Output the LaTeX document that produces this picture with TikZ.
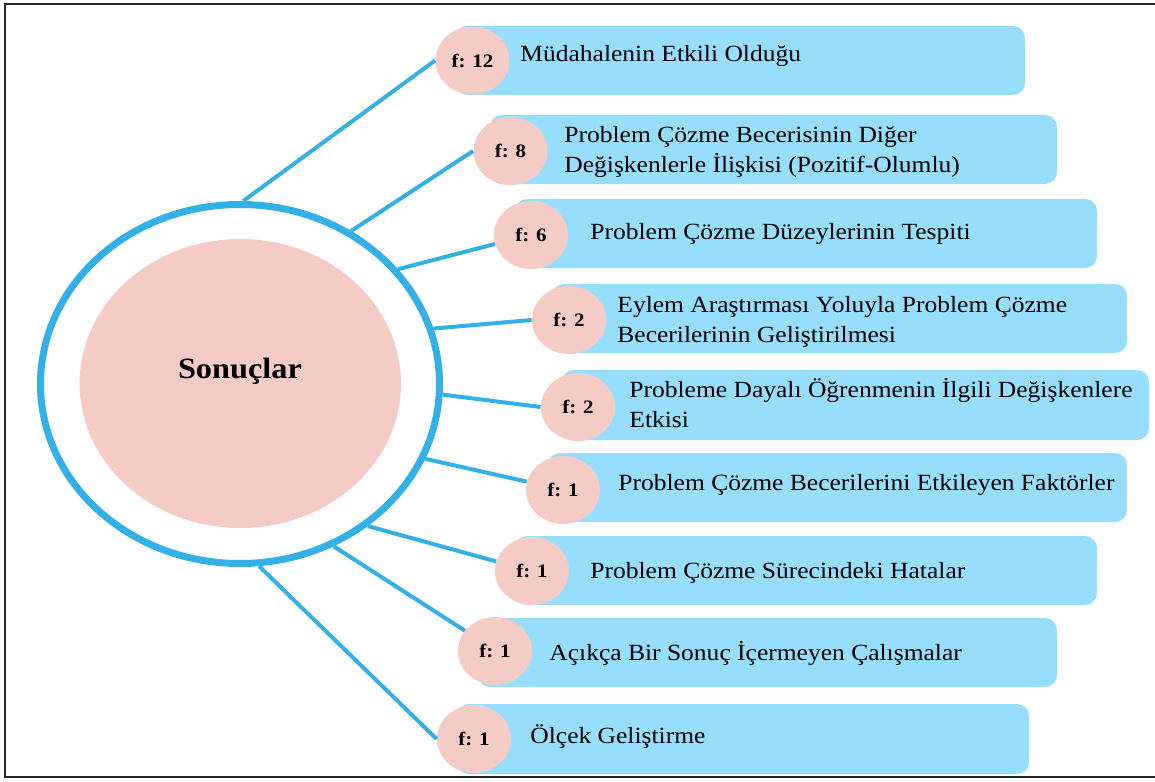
\documentclass[tikz,border=0pt]{standalone}
\usepackage{fontspec}
\setmainfont{Liberation Serif}[FakeStretch=1.1]
\usetikzlibrary{shapes.geometric}
\definecolor{ringblue}{RGB}{51,176,230}
\definecolor{boxblue}{RGB}{151,222,253}
\definecolor{rosepink}{RGB}{244,203,197}
\tikzset{
	fcircle/.style={ellipse,fill=rosepink,inner sep=0pt,minimum width=37pt,minimum height=34pt,font=\fontsize{9.5}{11}\selectfont\bfseries},
	itembox/.style={fill=boxblue,rounded corners=6pt},
	itemtext/.style={anchor=base west,inner sep=0pt,align=left,font=\fontsize{11.6}{15}\selectfont},
	link/.style={ringblue,line width=2pt}
}

\begin{document}
\begin{tikzpicture}[x=0.5pt,y=-0.5pt]
	\useasboundingbox (0,0) rectangle (1155,781);
	% frame
	\draw[black!85,line width=1pt] (5,4) rectangle (1162,777);
	% boxes
	\fill[itembox] (455,26) rectangle (1025,95);
	\fill[itembox] (490,115) rectangle (1057,184);
	\fill[itembox] (515,199) rectangle (1097,268);
	\fill[itembox] (552,284) rectangle (1127,353);
	\fill[itembox] (562,370) rectangle (1149,440);
	\fill[itembox] (548,453) rectangle (1127,522);
	\fill[itembox] (515,536) rectangle (1097,605);
	\fill[itembox] (478,618) rectangle (1057,687);
	\fill[itembox] (457,704) rectangle (1029,774);
	% centre
	\node[ellipse,draw=ringblue,line width=3.5pt,inner sep=0pt,minimum width=199.5pt,minimum height=179.5pt] (ring) at (240,384) {};
	\node[ellipse,fill=rosepink,inner sep=0pt,minimum width=160.7pt,minimum height=144.5pt] (core) at (240.3,383.5) {};
	\node[anchor=base,font=\fontsize{14.7}{17}\selectfont\bfseries] (title) at (240,378) {Sonuçlar};
	% counts
	\node[fcircle] (f1) at (472.5,60.5) {f: 12};
	\node[fcircle] (f2) at (510.5,151) {f: 8};
	\node[fcircle] (f3) at (531,235) {f: 6};
	\node[fcircle] (f4) at (569,320) {f: 2};
	\node[fcircle] (f5) at (578,407) {f: 2};
	\node[fcircle] (f6) at (563,490) {f: 1};
	\node[fcircle] (f7) at (532,571) {f: 1};
	\node[fcircle] (f8) at (495,651) {f: 1};
	\node[fcircle] (f9) at (474,739) {f: 1};
	% texts (base = last line)
	\node[itemtext] (t1) at (520,62) {Müdahalenin Etkili Olduğu};
	\node[itemtext] (t2) at (564,172) {Problem Çözme Becerisinin Diğer\\Değişkenlerle İlişkisi (Pozitif-Olumlu)};
	\node[itemtext] (t3) at (590,239) {Problem Çözme Düzeylerinin Tespiti};
	\node[itemtext] (t4) at (617,342) {Eylem Araştırması Yoluyla Problem Çözme\\Becerilerinin Geliştirilmesi};
	\node[itemtext] (t5) at (629,427) {Probleme Dayalı Öğrenmenin İlgili Değişkenlere\\Etkisi};
	\node[itemtext] (t6) at (618,490) {Problem Çözme Becerilerini Etkileyen Faktörler};
	\node[itemtext] (t7) at (590,578) {Problem Çözme Sürecindeki Hatalar};
	\node[itemtext] (t8) at (549,660) {Açıkça Bir Sonuç İçermeyen Çalışmalar};
	\node[itemtext] (t9) at (530,743) {Ölçek Geliştirme};
	% links
	\draw[link] (ring.89) -- (f1.west);
	\draw[link] (ring.54.6) -- (f2.west);
	\draw[link] (ring.36.3) -- (f3.194);
	\draw[link] (ring.16.2) -- (f4.west);
	\draw[link] (ring.-3.9) -- (f5.west);
	\draw[link] (ring.-22) -- (f6.167);
	\draw[link] (ring.-48.4) -- (f7.165);
	\draw[link] (ring.-60.3) -- (f8.146);
	\draw[link] (ring.-84.7) -- (f9.west);
\end{tikzpicture}
\end{document}
